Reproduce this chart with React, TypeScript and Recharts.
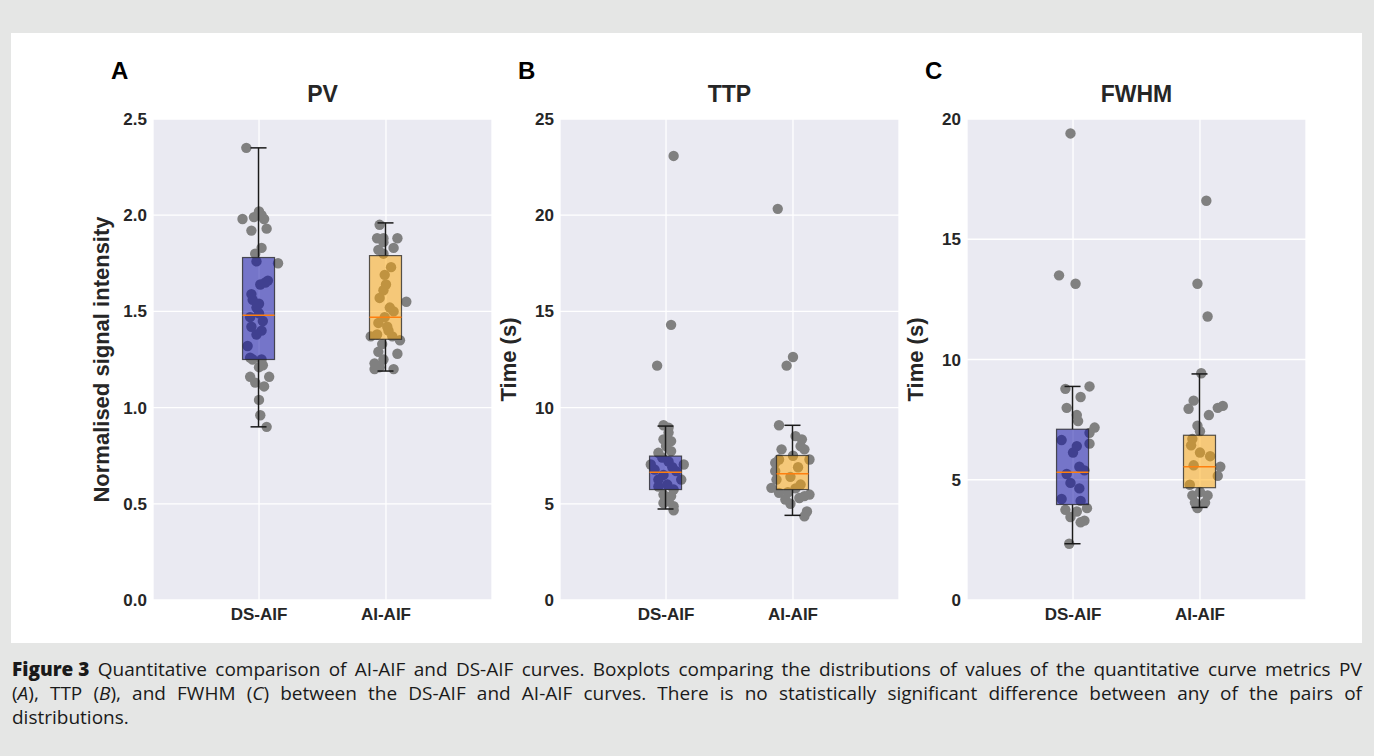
import React from "react";
import { ComposedChart, Bar, Scatter, XAxis, YAxis, CartesianGrid } from "recharts";

const CATEGORIES = ["DS-AIF", "AI-AIF"];
const DS_COLOR = "#0000a0";
const AI_COLOR = "#ffa500";

// box stats: whisker low, q1, median, q3, whisker high
// PV
const pvTicks = [0, 0.5, 1, 1.5, 2, 2.5];
const pvBoxDs = [0.9, 1.25, 1.48, 1.78, 2.35];
const pvBoxAi = [1.19, 1.355, 1.47, 1.79, 1.96];
const pvDsValues = [2.35, 2.02, 1.98, 2.0, 1.98, 1.99, 1.93, 1.92, 1.83, 1.8, 1.75, 1.76, 1.66, 1.65, 1.64, 1.59, 1.56, 1.54, 1.52, 1.49, 1.47, 1.45, 1.42, 1.4, 1.38, 1.32, 1.26, 1.25, 1.25, 1.22, 1.21, 1.16, 1.16, 1.13, 1.11, 1.04, 0.96, 0.9];
const pvDsJitter = [-0.1, 0, -0.13, 0.02, 0.04, -0.04, 0.06, -0.06, 0.02, -0.03, 0.15, -0.02, 0.07, 0.05, 0.01, -0.06, -0.05, 0, -0.02, 0, -0.07, 0.03, -0.06, 0.02, -0.02, -0.09, -0.07, 0.02, -0.05, 0.03, 0, -0.07, 0.08, -0.03, 0.04, 0, 0.01, 0.06];
const pvAiValues = [1.95, 1.88, 1.88, 1.88, 1.86, 1.83, 1.82, 1.8, 1.73, 1.69, 1.64, 1.61, 1.57, 1.55, 1.52, 1.5, 1.47, 1.44, 1.42, 1.4, 1.37, 1.38, 1.37, 1.35, 1.33, 1.29, 1.28, 1.25, 1.23, 1.21, 1.2, 1.2];
const pvAiJitter = [-0.05, -0.07, -0.02, 0.09, -0.02, 0.06, -0.06, -0.02, 0.04, -0.01, 0, -0.02, -0.05, 0.16, 0.03, 0.06, -0.01, -0.06, 0.01, 0.02, -0.12, -0.07, 0.05, 0.11, -0.03, -0.06, 0.09, -0.02, -0.09, -0.05, 0.06, -0.09];

// TTP
const ttpTicks = [0, 5, 10, 15, 20, 25];
const ttpBoxDs = [4.73, 5.74, 6.64, 7.48, 9.04];
const ttpBoxAi = [4.4, 5.74, 6.56, 7.51, 9.08];
const ttpDsValues = [23.08, 14.3, 12.18, 9.08, 8.96, 8.7, 8.35, 8.26, 8.0, 7.74, 7.65, 7.4, 7.2, 7.04, 7.04, 6.9, 6.78, 6.7, 6.5, 6.26, 6.26, 6.0, 5.9, 5.74, 5.48, 5.4, 5.13, 5.04, 4.87, 4.66];
const ttpDsJitter = [0.06, 0.04, -0.07, -0.02, 0.02, 0.02, -0.02, 0.04, 0, 0.04, -0.06, -0.03, 0.02, -0.12, 0.14, 0.05, -0.09, 0.08, -0.02, -0.06, 0.12, 0.01, -0.06, 0.06, -0.02, 0.04, 0.02, -0.02, 0.06, 0.06];
const ttpAiValues = [20.33, 12.63, 12.18, 9.08, 8.52, 8.35, 8.0, 7.83, 7.83, 7.5, 7.3, 7.3, 7.13, 6.9, 6.7, 6.4, 6.26, 6.0, 5.83, 5.8, 5.6, 5.57, 5.48, 5.4, 5.3, 5.22, 5.0, 4.6, 4.35];
const ttpAiJitter = [-0.12, 0, -0.05, -0.11, 0.02, 0.07, 0.06, 0.09, -0.09, 0, -0.11, 0.13, -0.14, 0.04, -0.14, -0.02, -0.13, 0.06, -0.17, 0.02, -0.04, -0.11, 0.13, 0.09, 0.05, -0.06, -0.02, 0.11, 0.09];

// FWHM
const fwhmTicks = [0, 5, 10, 15, 20];
const fwhmBoxDs = [2.34, 3.97, 5.31, 7.1, 8.88];
const fwhmBoxAi = [3.85, 4.67, 5.54, 6.85, 9.4];
const fwhmDsValues = [19.4, 13.5, 13.15, 8.88, 8.78, 8.44, 7.99, 7.69, 7.44, 7.17, 6.95, 6.65, 6.5, 6.4, 6.13, 5.54, 5.39, 5.24, 4.87, 4.64, 4.2, 4.12, 3.82, 3.75, 3.68, 3.45, 3.3, 3.23, 2.34];
const fwhmDsJitter = [-0.02, -0.11, 0.02, 0.13, -0.06, 0.06, -0.05, 0.03, 0.04, 0.17, 0.13, -0.09, 0.13, 0.03, 0, 0.05, 0.09, -0.05, -0.02, 0.05, -0.09, 0.06, 0.11, -0.06, 0.03, -0.02, 0.09, 0.06, -0.03];
const fwhmAiValues = [16.6, 13.15, 11.79, 9.43, 8.29, 8.07, 7.99, 7.95, 7.69, 7.25, 7.02, 6.7, 6.43, 6.13, 5.98, 5.6, 5.54, 5.16, 4.79, 4.49, 4.35, 4.35, 4.05, 4.05, 3.82];
const fwhmAiJitter = [0.05, -0.02, 0.06, 0.01, -0.05, 0.18, 0.14, -0.09, 0.07, -0.02, 0, -0.06, -0.07, 0, 0.08, -0.05, 0.16, 0.14, -0.08, 0, -0.06, 0.06, -0.04, 0.04, -0.02];

const CAPTION_LINES = [
  "Quantitative comparison of AI-AIF and DS-AIF curves. Boxplots comparing the distributions of values of the quantitative curve metrics PV",
  "(A), TTP (B), and FWHM (C) between the DS-AIF and AI-AIF curves. There is no statistically significant difference between any of the pairs of",
  "distributions.",
];

const PLOT_W = 339;
const PLOT_H = 481;
const PLOT_TOP = 119;
const Y_W = 80;
const TOP_PAD = 12;
const X_H = 40;
const BOX_W = 32;
const X_DOMAIN = [0.165, 2.835];
const FONT = "'Liberation Sans', Arial, sans-serif";

const BoxShape = (props: any) => {
  const { x, y, width, height, payload } = props;
  if (!payload || !payload.stats) return null;
  const [lo, q1, med, q3, hi] = payload.stats;
  const top = Math.min(y, y + height);
  const h = Math.abs(height);
  const py = (v: number) => top + ((hi - v) / (hi - lo)) * h;
  const cx = x + width / 2;
  const left = cx - BOX_W / 2;
  const cap = BOX_W / 4;
  return (
    <g>
      <line x1={cx} x2={cx} y1={py(hi)} y2={py(q3)} stroke="#1a1a1a" strokeWidth={1.5} />
      <line x1={cx} x2={cx} y1={py(q1)} y2={py(lo)} stroke="#1a1a1a" strokeWidth={1.5} />
      <line x1={cx - cap} x2={cx + cap} y1={py(hi)} y2={py(hi)} stroke="#1a1a1a" strokeWidth={1.5} />
      <line x1={cx - cap} x2={cx + cap} y1={py(lo)} y2={py(lo)} stroke="#1a1a1a" strokeWidth={1.5} />
      <rect x={left} y={py(q3)} width={BOX_W} height={py(q1) - py(q3)} fill={payload.color} fillOpacity={0.5} stroke="#222" strokeOpacity={0.75} strokeWidth={1.2} />
      <line x1={left} x2={left + BOX_W} y1={py(med)} y2={py(med)} stroke="#ff7f0e" strokeWidth={1.5} />
    </g>
  );
};

const Dot = (props: any) => <circle cx={props.cx} cy={props.cy} r={5.2} fill="#808080" />;

type PanelProps = {
  plotLeft: number;
  letter: string;
  title: string;
  yLabel: string;
  ticks: number[];
  decimals: number;
  boxDs: number[];
  boxAi: number[];
  dsValues: number[];
  dsJitter: number[];
  aiValues: number[];
  aiJitter: number[];
};

function Panel(p: PanelProps) {
  const boxes = [
    { x: 1, range: [p.boxDs[0], p.boxDs[4]], stats: p.boxDs, color: DS_COLOR },
    { x: 2, range: [p.boxAi[0], p.boxAi[4]], stats: p.boxAi, color: AI_COLOR },
  ];
  const points = [
    ...p.dsValues.map((v, i) => ({ x: 1 + p.dsJitter[i], y: v })),
    ...p.aiValues.map((v, i) => ({ x: 2 + p.aiJitter[i], y: v })),
  ];
  const max = p.ticks[p.ticks.length - 1];
  const W = Y_W + PLOT_W;
  const H = TOP_PAD + PLOT_H + X_H;
  return (
    <>
      <div style={{ position: "absolute", left: p.plotLeft - 42, top: 59, fontFamily: FONT, fontWeight: 700, fontSize: 24, lineHeight: 1, color: "#000" }}>
        {p.letter}
      </div>
      <div style={{ position: "absolute", left: p.plotLeft, width: PLOT_W, top: 83, textAlign: "center", fontFamily: FONT, fontWeight: 700, fontSize: 23, lineHeight: 1, color: "#262626" }}>
        {p.title}
      </div>
      <div style={{ position: "absolute", left: p.plotLeft - Y_W, top: PLOT_TOP - TOP_PAD, width: W, height: H }}>
        {/* background layer: grid, axes, jittered points */}
        <ComposedChart width={W} height={H} margin={{ top: TOP_PAD, right: 0, bottom: 0, left: 0 }}>
          <CartesianGrid fill="#eaeaf2" stroke="#ffffff" strokeWidth={1.3} />
          <XAxis
            type="number"
            dataKey="x"
            domain={X_DOMAIN}
            ticks={[1, 2]}
            allowDataOverflow
            tickFormatter={(v: number) => CATEGORIES[Math.round(v) - 1] ?? ""}
            axisLine={false}
            tickLine={false}
            height={X_H}
            tick={{ fill: "#262626", fontSize: 17, fontWeight: 700, fontFamily: FONT }}
          />
          <YAxis
            type="number"
            dataKey="y"
            domain={[0, max]}
            ticks={p.ticks}
            allowDataOverflow
            tickFormatter={(v: number) => Number(v).toFixed(p.decimals)}
            axisLine={false}
            tickLine={false}
            tickSize={4}
            width={Y_W}
            tick={{ fill: "#262626", fontSize: 17, fontWeight: 700, fontFamily: FONT }}
            label={{
              value: p.yLabel,
              angle: -90,
              position: "insideLeft",
              offset: 28,
              style: { textAnchor: "middle", fill: "#262626", fontSize: 22, fontWeight: 700, fontFamily: FONT },
            }}
          />
          <Scatter data={points} shape={<Dot />} isAnimationActive={false} />
        </ComposedChart>
        {/* box layer drawn over the points, same scales */}
        <div style={{ position: "absolute", left: 0, top: 0 }}>
          <ComposedChart width={W} height={H} data={boxes} margin={{ top: TOP_PAD, right: 0, bottom: X_H, left: Y_W }}>
            <XAxis type="number" dataKey="x" domain={X_DOMAIN} allowDataOverflow hide />
            <YAxis type="number" domain={[0, max]} allowDataOverflow hide />
            <Bar dataKey="range" barSize={BOX_W} shape={<BoxShape />} isAnimationActive={false} />
          </ComposedChart>
        </div>
      </div>
    </>
  );
}

function CaptionWord({ word }: { word: string }) {
  const m = word.match(/^\(([A-C])\)(.*)$/);
  if (m) {
    return (
      <span>
        (<i>{m[1]}</i>){m[2]}
      </span>
    );
  }
  return <span>{word}</span>;
}

function CaptionLine({ text, lead, justify }: { text: string; lead?: string; justify: boolean }) {
  const words = text.split(" ");
  return (
    <div style={{ display: "flex", justifyContent: justify ? "space-between" : "flex-start", gap: justify ? 0 : 6, whiteSpace: "nowrap", height: 24 }}>
      {lead && <span style={{ fontWeight: 800 }}>{lead}</span>}
      {words.map((w, i) => (
        <CaptionWord key={i} word={w} />
      ))}
    </div>
  );
}

export default function App() {
  return (
    <div style={{ position: "absolute", left: 0, top: 0, width: 1374, height: 756, background: "#e5e6e5", overflow: "hidden" }}>
      <div style={{ position: "absolute", left: 11, top: 33, width: 1351, height: 610, background: "#ffffff" }} />
      <Panel plotLeft={153} letter="A" title="PV" yLabel="Normalised signal intensity" ticks={pvTicks} decimals={1}
        boxDs={pvBoxDs} boxAi={pvBoxAi} dsValues={pvDsValues} dsJitter={pvDsJitter} aiValues={pvAiValues} aiJitter={pvAiJitter} />
      <Panel plotLeft={560} letter="B" title="TTP" yLabel="Time (s)" ticks={ttpTicks} decimals={0}
        boxDs={ttpBoxDs} boxAi={ttpBoxAi} dsValues={ttpDsValues} dsJitter={ttpDsJitter} aiValues={ttpAiValues} aiJitter={ttpAiJitter} />
      <Panel plotLeft={967} letter="C" title="FWHM" yLabel="Time (s)" ticks={fwhmTicks} decimals={0}
        boxDs={fwhmBoxDs} boxAi={fwhmBoxAi} dsValues={fwhmDsValues} dsJitter={fwhmDsJitter} aiValues={fwhmAiValues} aiJitter={fwhmAiJitter} />
      <div style={{ position: "absolute", left: 12, top: 657, width: 1350, fontFamily: "'Open Sans', Lato, sans-serif", fontSize: 19, lineHeight: "24px", color: "#1a1a1a" }}>
        <CaptionLine lead="Figure 3" text={CAPTION_LINES[0]} justify />
        <CaptionLine text={CAPTION_LINES[1]} justify />
        <CaptionLine text={CAPTION_LINES[2]} justify={false} />
      </div>
    </div>
  );
}
